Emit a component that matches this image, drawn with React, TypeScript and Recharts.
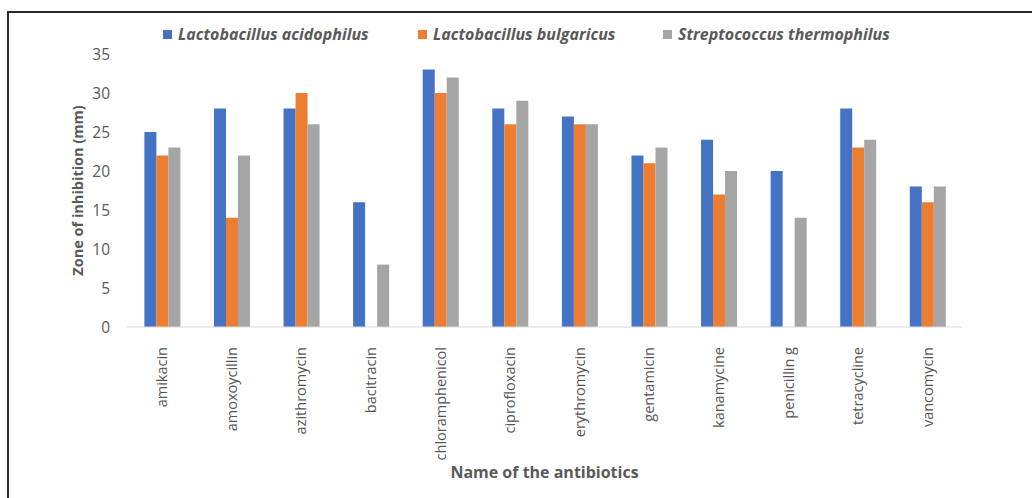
import React from "react";
import { BarChart, Bar, XAxis, YAxis, Label } from "recharts";

const antibiotics = [
  "amikacin",
  "amoxoycillin",
  "azithromycin",
  "bacitracin",
  "chloramphenicol",
  "ciprofloxacin",
  "erythromycin",
  "gentamicin",
  "kanamycine",
  "penicillin g",
  "tetracycline",
  "vancomycin",
];

const acidophilus = [25, 28, 28, 16, 33, 28, 27, 22, 24, 20, 28, 18];
const bulgaricus = [22, 14, 30, 0, 30, 26, 26, 21, 17, 0, 23, 16];
const thermophilus = [23, 22, 26, 8, 32, 29, 26, 23, 20, 14, 24, 18];

const yTicks = [0, 5, 10, 15, 20, 25, 30, 35];

const series = [
  { key: "acidophilus", name: "Lactobacillus acidophilus", color: "#4472C4" },
  { key: "bulgaricus", name: "Lactobacillus bulgaricus", color: "#ED7D31" },
  { key: "thermophilus", name: "Streptococcus thermophilus", color: "#A5A5A5" },
];

const data = antibiotics.map((name, i) => ({
  name,
  acidophilus: acidophilus[i],
  bulgaricus: bulgaricus[i],
  thermophilus: thermophilus[i],
}));

const FONT = "'Open Sans', sans-serif";
const TEXT = "#595959";

const legendX = [163, 418, 663];

function RotatedTick({ x, y, payload }: any) {
  return (
    <text
      x={x}
      y={y + 12}
      transform={`rotate(-90, ${x}, ${y + 12})`}
      textAnchor="end"
      dominantBaseline="central"
      fill="#555"
      fontSize={14.5}
      fontFamily={FONT}
    >
      {payload.value}
    </text>
  );
}

export default function App() {
  return (
    <div style={{ position: "relative", width: 1032, height: 498, background: "#fff", overflow: "hidden" }}>
      <style>{"body{margin:0}"}</style>
      <div
        style={{
          position: "absolute",
          left: 7,
          top: 11,
          width: 1040,
          height: 500,
          borderTop: "2px solid #2a2a2a",
          borderLeft: "2px solid #2a2a2a",
        }}
      />
      {series.map((s, i) => (
        <div
          key={s.key}
          style={{
            position: "absolute",
            left: legendX[i],
            top: 23,
            display: "flex",
            alignItems: "center",
            fontFamily: FONT,
            fontSize: 16,
            fontWeight: 700,
            fontStyle: "italic",
            color: TEXT,
            whiteSpace: "nowrap",
          }}
        >
          <span style={{ display: "inline-block", width: 9, height: 9, background: s.color, marginRight: 6 }} />
          {s.name}
        </div>
      ))}
      <div style={{ position: "absolute", left: 0, top: 0 }}>
        <BarChart
          width={1032}
          height={498}
          data={data}
          margin={{ top: 54, right: 70, bottom: 0, left: 0 }}
          barCategoryGap="25%"
          barGap={0}
        >
          <XAxis
            dataKey="name"
            height={171}
            interval={0}
            tick={<RotatedTick />}
            tickLine={false}
            axisLine={{ stroke: "#D9D9D9" }}
          >
            <Label
              value="Name of the antibiotics"
              position="insideBottom"
              offset={20}
              fill={TEXT}
              fontSize={16}
              fontWeight={700}
              fontFamily={FONT}
            />
          </XAxis>
          <YAxis
            width={127}
            domain={[0, 35]}
            ticks={yTicks}
            interval={0}
            axisLine={false}
            tickLine={false}
            tickMargin={11}
            tick={{ fill: TEXT, fontSize: 15.5, fontFamily: FONT }}
          >
            <Label
              value="Zone of inhibition (mm)"
              angle={-90}
              position="center"
              dx={14}
              fill={TEXT}
              fontSize={14.5}
              fontWeight={700}
              fontFamily={FONT}
            />
          </YAxis>
          {series.map((s) => (
            <Bar key={s.key} dataKey={s.key} name={s.name} fill={s.color} isAnimationActive={false} />
          ))}
        </BarChart>
      </div>
    </div>
  );
}
